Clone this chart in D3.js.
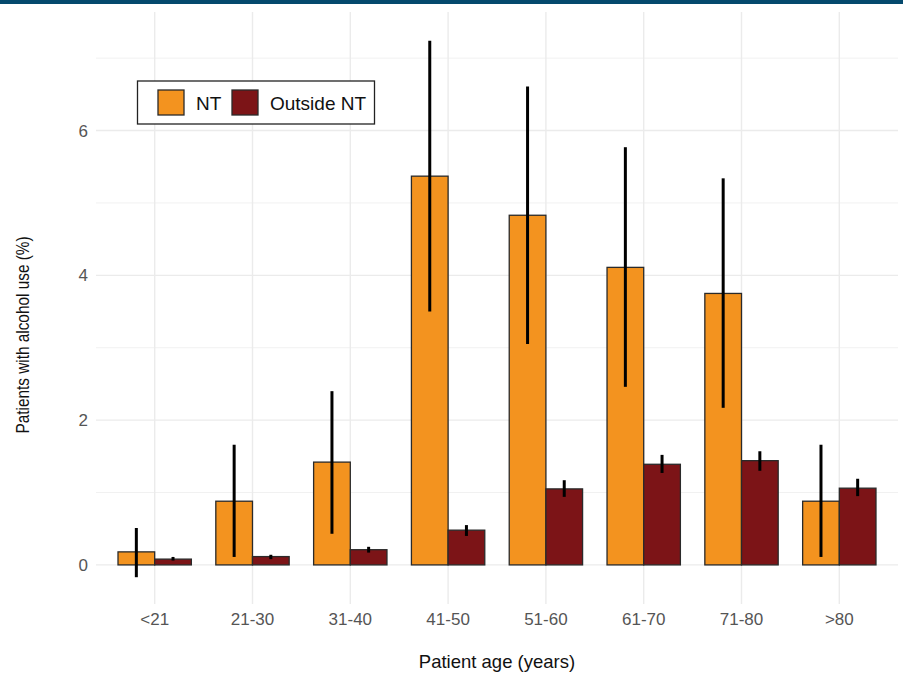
<!DOCTYPE html>
<html>
<head>
<meta charset="utf-8">
<script src="https://cdn.jsdelivr.net/npm/d3@7"></script>
<style>
html,body{margin:0;padding:0;background:#fff;}
svg{display:block;font-family:"Liberation Sans",Arial,Helvetica,sans-serif;}
</style>
</head>
<body>
<svg id="chart" width="903" height="673"></svg>
<script>
const categories = ["<21","21-30","31-40","41-50","51-60","61-70","71-80",">80"];
const seriesNames = ["NT","Outside NT"];
const ntValues  = [0.18, 0.88, 1.42, 5.37, 4.83, 4.11, 3.75, 0.88];
const ntLow     = [-0.17, 0.11, 0.43, 3.50, 3.05, 2.46, 2.17, 0.11];
const ntHigh    = [0.51, 1.66, 2.40, 7.24, 6.61, 5.77, 5.34, 1.66];
const outValues = [0.08, 0.115, 0.21, 0.48, 1.05, 1.39, 1.44, 1.06];
const outLow    = [0.06, 0.08, 0.17, 0.40, 0.94, 1.27, 1.30, 0.95];
const outHigh   = [0.11, 0.14, 0.25, 0.55, 1.17, 1.52, 1.57, 1.19];
const yMajorTicks = [0, 2, 4, 6];
const yMinorTicks = [1, 3, 5, 7];
const xTitle = "Patient age (years)";
const yTitle = "Patients with alcohol use (%)";

const colors = {"NT": "#F3931F", "Outside NT": "#7C1417"};

const svg = d3.select("#chart");
const W = 903, H = 673;
const panel = {left: 96, right: 898, top: 14, bottom: 604};

svg.append("rect").attr("x", 0).attr("y", 0).attr("width", W).attr("height", 4).attr("fill", "#05496D");

const x = d3.scaleBand().domain(categories).range([panel.left, panel.right]).paddingInner(0).paddingOuter(0.1);
const step = x.step();
const xs = d3.scaleBand().domain(seriesNames).range([-0.375 * step, 0.375 * step]).padding(0);
const y = d3.scaleLinear().domain([-0.54, 7.61]).range([panel.bottom, panel.top]);

const grid = svg.append("g");
grid.selectAll("line.ymin").data(yMinorTicks).join("line")
  .attr("x1", panel.left).attr("x2", panel.right)
  .attr("y1", d => y(d)).attr("y2", d => y(d))
  .attr("stroke", "#f1f1f1").attr("stroke-width", 1);
grid.selectAll("line.ymaj").data(yMajorTicks).join("line")
  .attr("x1", panel.left).attr("x2", panel.right)
  .attr("y1", d => y(d)).attr("y2", d => y(d))
  .attr("stroke", "#ebebeb").attr("stroke-width", 1.4);
grid.selectAll("line.xmaj").data(categories).join("line")
  .attr("x1", d => x(d) + x.bandwidth() / 2).attr("x2", d => x(d) + x.bandwidth() / 2)
  .attr("y1", panel.top - 2).attr("y2", panel.bottom)
  .attr("stroke", "#ebebeb").attr("stroke-width", 1.4);

const rows = [];
categories.forEach((c, i) => {
  rows.push({cat: c, s: "NT", v: ntValues[i], lo: ntLow[i], hi: ntHigh[i]});
  rows.push({cat: c, s: "Outside NT", v: outValues[i], lo: outLow[i], hi: outHigh[i]});
});

const cx = d => x(d.cat) + x.bandwidth() / 2 + xs(d.s);

svg.append("g").selectAll("rect").data(rows).join("rect")
  .attr("x", d => cx(d))
  .attr("width", xs.bandwidth())
  .attr("y", d => y(Math.max(0, d.v)))
  .attr("height", d => Math.abs(y(0) - y(d.v)))
  .attr("fill", d => colors[d.s])
  .attr("stroke", "#2a2a2a").attr("stroke-width", 1.3);

svg.append("g").selectAll("line").data(rows).join("line")
  .attr("x1", d => cx(d) + xs.bandwidth() / 2)
  .attr("x2", d => cx(d) + xs.bandwidth() / 2)
  .attr("y1", d => y(d.lo)).attr("y2", d => y(d.hi))
  .attr("stroke", "#000").attr("stroke-width", 3);

const yAxis = svg.append("g").attr("transform", `translate(${panel.left - 8},0)`)
  .call(d3.axisLeft(y).tickValues(yMajorTicks).tickSize(0).tickPadding(0).tickFormat(d3.format("d")));
yAxis.select(".domain").remove();
yAxis.selectAll("text").attr("font-size", 17).attr("fill", "#555")
  .attr("font-family", "Liberation Sans, Arial, sans-serif");

const xAxis = svg.append("g").attr("transform", `translate(0,${panel.bottom + 9})`)
  .call(d3.axisBottom(x).tickSize(0).tickPadding(0));
xAxis.select(".domain").remove();
xAxis.selectAll("text").attr("font-size", 17).attr("fill", "#555")
  .attr("font-family", "Liberation Sans, Arial, sans-serif");

svg.append("text").attr("x", (panel.left + panel.right) / 2).attr("y", 668)
  .attr("text-anchor", "middle").attr("font-size", 18.5).attr("fill", "#111").text(xTitle);
svg.append("text").attr("transform", `translate(29,335) rotate(-90) scale(0.83,1)`)
  .attr("text-anchor", "middle").attr("font-size", 18.5).attr("fill", "#111").text(yTitle);

const lg = svg.append("g");
lg.append("rect").attr("x", 137.5).attr("y", 81).attr("width", 237).attr("height", 43)
  .attr("fill", "#fff").attr("stroke", "#222").attr("stroke-width", 1.3);
const legX = [158, 232];
const legTX = [196, 270];
seriesNames.forEach((s, i) => {
  lg.append("rect").attr("x", legX[i]).attr("y", 90).attr("width", 26).attr("height", 25)
    .attr("fill", colors[s]).attr("stroke", "#2a2a2a").attr("stroke-width", 1.3);
  lg.append("text").attr("x", legTX[i]).attr("y", 110).attr("font-size", 19)
    .attr("fill", "#111").text(s);
});
</script>
</body>
</html>
